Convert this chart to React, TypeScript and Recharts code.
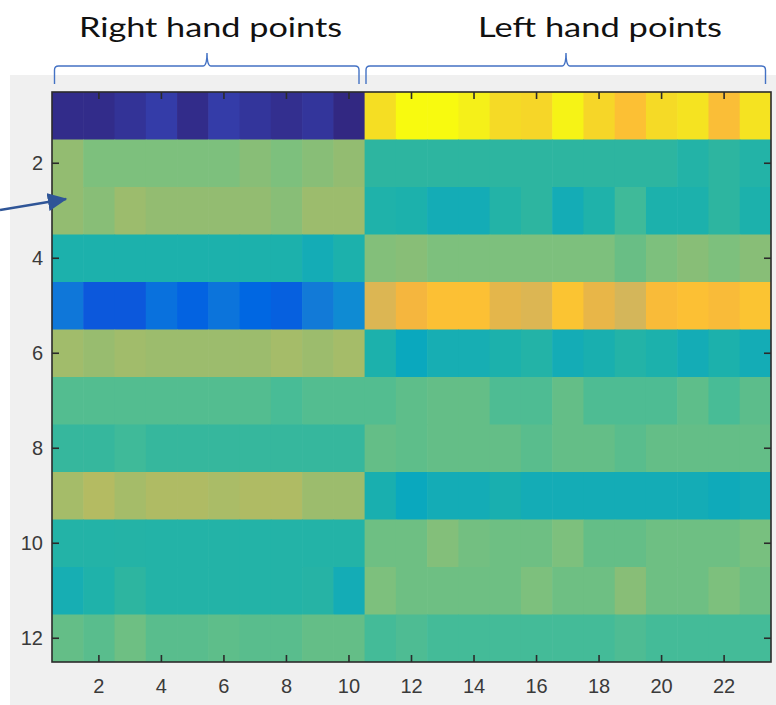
import { Scatter, ScatterChart, XAxis, YAxis } from "recharts";

document.body.style.margin = "0";

// heatmap values (0..1 on the parula scale), one array per row, 23 points each
// cols 1-10 = right hand points, cols 11-23 = left hand points
const r01 = [0.01, 0.01, 0.025, 0.045, 0.01, 0.045, 0.03, 0.015, 0.03, 0.0, 0.93, 1.0, 1.0, 0.97, 0.92, 0.91, 0.98, 0.91, 0.86, 0.92, 0.94, 0.85, 0.94];
const r02 = [0.62, 0.58, 0.58, 0.58, 0.58, 0.58, 0.6, 0.58, 0.6, 0.62, 0.5, 0.5, 0.5, 0.5, 0.5, 0.5, 0.5, 0.5, 0.5, 0.5, 0.47, 0.5, 0.47];
const r03 = [0.62, 0.6, 0.64, 0.62, 0.62, 0.62, 0.62, 0.6, 0.64, 0.64, 0.46, 0.45, 0.42, 0.42, 0.47, 0.5, 0.42, 0.46, 0.52, 0.45, 0.45, 0.5, 0.45];
const r04 = [0.45, 0.45, 0.45, 0.45, 0.45, 0.45, 0.45, 0.45, 0.42, 0.45, 0.59, 0.6, 0.58, 0.58, 0.58, 0.58, 0.58, 0.58, 0.56, 0.58, 0.6, 0.58, 0.6];
const r05 = [0.2, 0.11, 0.11, 0.18, 0.14, 0.19, 0.15, 0.13, 0.21, 0.26, 0.76, 0.82, 0.86, 0.86, 0.78, 0.76, 0.87, 0.79, 0.74, 0.84, 0.86, 0.84, 0.87];
const r06 = [0.65, 0.63, 0.65, 0.64, 0.64, 0.64, 0.64, 0.66, 0.64, 0.66, 0.45, 0.4, 0.43, 0.43, 0.45, 0.47, 0.42, 0.44, 0.47, 0.45, 0.42, 0.45, 0.42];
const r07 = [0.54, 0.54, 0.54, 0.54, 0.54, 0.54, 0.54, 0.53, 0.54, 0.54, 0.54, 0.55, 0.555, 0.555, 0.535, 0.535, 0.555, 0.535, 0.535, 0.535, 0.55, 0.53, 0.548];
const r08 = [0.51, 0.51, 0.52, 0.51, 0.51, 0.51, 0.51, 0.51, 0.51, 0.51, 0.555, 0.55, 0.555, 0.555, 0.555, 0.545, 0.555, 0.555, 0.545, 0.555, 0.555, 0.555, 0.555];
const r09 = [0.66, 0.69, 0.66, 0.68, 0.68, 0.67, 0.68, 0.68, 0.64, 0.64, 0.44, 0.4, 0.42, 0.42, 0.44, 0.42, 0.42, 0.42, 0.42, 0.42, 0.42, 0.41, 0.42];
const r10 = [0.47, 0.47, 0.475, 0.47, 0.47, 0.47, 0.47, 0.47, 0.47, 0.47, 0.565, 0.565, 0.59, 0.57, 0.565, 0.565, 0.58, 0.555, 0.555, 0.565, 0.565, 0.565, 0.575];
const r11 = [0.43, 0.46, 0.5, 0.47, 0.47, 0.47, 0.47, 0.47, 0.48, 0.42, 0.58, 0.565, 0.565, 0.565, 0.565, 0.58, 0.565, 0.565, 0.6, 0.565, 0.565, 0.58, 0.565];
const r12 = [0.555, 0.545, 0.565, 0.545, 0.545, 0.55, 0.545, 0.545, 0.555, 0.555, 0.525, 0.535, 0.525, 0.525, 0.525, 0.525, 0.525, 0.525, 0.535, 0.525, 0.525, 0.525, 0.525];

const rows = [r01, r02, r03, r04, r05, r06, r07, r08, r09, r10, r11, r12];
const xTicks = [2, 4, 6, 8, 10, 12, 14, 16, 18, 20, 22];
const yTicks = [2, 4, 6, 8, 10, 12];
const groupTitles = ["Right hand points", "Left hand points"];

const N_COLS = 23;
const N_ROWS = 12;
const xDomain: [number, number] = [0.5, N_COLS + 0.5];
const yDomain: [number, number] = [0.5, N_ROWS + 0.5];

// parula-ish colour map stops
const stops: [number, number, number, number][] = [
  [0.0, 50, 40, 130],
  [0.05, 52, 62, 172],
  [0.11, 12, 88, 220],
  [0.15, 0, 103, 226],
  [0.21, 18, 122, 215],
  [0.27, 14, 142, 210],
  [0.4, 10, 168, 190],
  [0.42, 20, 172, 182],
  [0.45, 28, 177, 172],
  [0.5, 45, 181, 160],
  [0.53, 72, 188, 150],
  [0.555, 100, 190, 135],
  [0.58, 125, 192, 125],
  [0.62, 147, 188, 113],
  [0.66, 165, 188, 105],
  [0.69, 180, 187, 98],
  [0.74, 212, 182, 90],
  [0.78, 228, 182, 75],
  [0.82, 245, 182, 62],
  [0.86, 252, 192, 52],
  [0.92, 245, 218, 38],
  [0.97, 245, 240, 25],
  [1.0, 248, 250, 15],
];

function parula(v: number) {
  for (let i = 1; i < stops.length; i++) {
    const [b, r2, g2, b2] = stops[i];
    if (v <= b) {
      const [a, r1, g1, b1] = stops[i - 1];
      const t = (v - a) / (b - a);
      const r = Math.round(r1 + (r2 - r1) * t);
      const g = Math.round(g1 + (g2 - g1) * t);
      const bl = Math.round(b1 + (b2 - b1) * t);
      return `rgb(${r},${g},${bl})`;
    }
  }
  return "rgb(248,250,15)";
}

const data = rows.flatMap((row, ri) => row.map((v, ci) => ({ x: ci + 1, y: ri + 1, v })));

const W = 776;
const H = 705;
const margin = { top: 92, right: 5, bottom: 13, left: 12 };
const Y_AXIS_W = 40;
const X_AXIS_H = 30;
const plotL = margin.left + Y_AXIS_W;
const plotT = margin.top;
const plotW = W - margin.left - margin.right - Y_AXIS_W;
const plotH = H - margin.top - margin.bottom - X_AXIS_H;
const cellW = plotW / N_COLS;
const cellH = plotH / N_ROWS;

// same linear mapping as the chart axes, for the box ticks drawn over the cells
const sx = (v: number) => plotL + ((v - xDomain[0]) / (xDomain[1] - xDomain[0])) * plotW;
const sy = (v: number) => plotT + ((v - yDomain[0]) / (yDomain[1] - yDomain[0])) * plotH;

const AXIS = "#2b2b2b";
const LABEL = "#3a3a3a";
const font = "'Liberation Sans', Arial, sans-serif";
const TICK = 7;

function HeatCell(props: any) {
  const { cx, cy, payload } = props;
  if (cx == null || cy == null) return null;
  return (
    <rect
      x={cx - cellW / 2}
      y={cy - cellH / 2}
      width={cellW + 0.6}
      height={cellH + 0.6}
      fill={parula(payload.v)}
    />
  );
}

const braceColor = "#4472c4";
const lbl = { fill: LABEL, fontSize: 20, fontFamily: font };

export default function App() {
  return (
    <div style={{ position: "relative", width: W, height: H, background: "#fff", overflow: "hidden" }}>
      <div style={{ position: "absolute", left: 10, top: 75, right: 0, bottom: 0, background: "#f0f0f0" }} />
      <div style={{ position: "absolute", left: 0, top: 0 }}>
        <ScatterChart width={W} height={H} margin={margin}>
          <Scatter data={data} dataKey="v" shape={<HeatCell />} isAnimationActive={false} />
          <XAxis
            type="number"
            dataKey="x"
            domain={xDomain}
            ticks={xTicks}
            interval={0}
            allowDataOverflow
            height={X_AXIS_H}
            tickSize={-TICK}
            tickMargin={24}
            axisLine={false}
            tickLine={false}
            tick={lbl}
          />
          <YAxis
            type="number"
            dataKey="y"
            domain={yDomain}
            reversed
            ticks={yTicks}
            interval={0}
            allowDataOverflow
            width={Y_AXIS_W}
            tickSize={-TICK}
            tickMargin={16}
            axisLine={false}
            tickLine={false}
            tick={lbl}
          />
        </ScatterChart>
      </div>
      <svg
        width={W}
        height={H}
        style={{ position: "absolute", left: 0, top: 0, pointerEvents: "none" }}
      >
        <defs>
          <marker id="head" markerWidth="8" markerHeight="7" refX="7" refY="3.5" orient="auto" markerUnits="strokeWidth">
            <path d="M0,0 L7.5,3.5 L0,7 Z" fill="#2f5597" />
          </marker>
        </defs>
        {/* axes box with inward ticks on all four sides */}
        <g stroke={AXIS} strokeWidth={1.6} fill="none">
          <rect x={plotL} y={plotT} width={plotW} height={plotH} />
          {xTicks.map((t) => (
            <g key={`x${t}`}>
              <line x1={sx(t)} x2={sx(t)} y1={plotT + plotH} y2={plotT + plotH - TICK} />
              <line x1={sx(t)} x2={sx(t)} y1={plotT} y2={plotT + TICK} />
            </g>
          ))}
          {yTicks.map((t) => (
            <g key={`y${t}`}>
              <line x1={plotL} x2={plotL + TICK} y1={sy(t)} y2={sy(t)} />
              <line x1={plotL + plotW} x2={plotL + plotW - TICK} y1={sy(t)} y2={sy(t)} />
            </g>
          ))}
        </g>
        <text x={79} y={37} fontFamily="Lato, 'Open Sans', sans-serif" fontSize={26} fill="#111" textLength={263} lengthAdjust="spacingAndGlyphs">
          {groupTitles[0]}
        </text>
        <text x={478} y={37} fontFamily="Lato, 'Open Sans', sans-serif" fontSize={26} fill="#111" textLength={244} lengthAdjust="spacingAndGlyphs">
          {groupTitles[1]}
        </text>
        <path
          d="M54.5,84 L54.5,70 Q54.5,66 58.5,66 L203,66 Q207,66 207,53 Q207,66 211,66 L355,66 Q359,66 359,70 L359,84"
          fill="none"
          stroke={braceColor}
          strokeWidth={1.4}
        />
        <path
          d="M366,84 L366,70 Q366,66 370,66 L562,66 Q566,66 566,53 Q566,66 570,66 L761.5,66 Q765.5,66 765.5,70 L765.5,84"
          fill="none"
          stroke={braceColor}
          strokeWidth={1.4}
        />
        <line x1={0} y1={210} x2={66} y2={199} stroke="#2f5597" strokeWidth={2.6} markerEnd="url(#head)" />
      </svg>
    </div>
  );
}
